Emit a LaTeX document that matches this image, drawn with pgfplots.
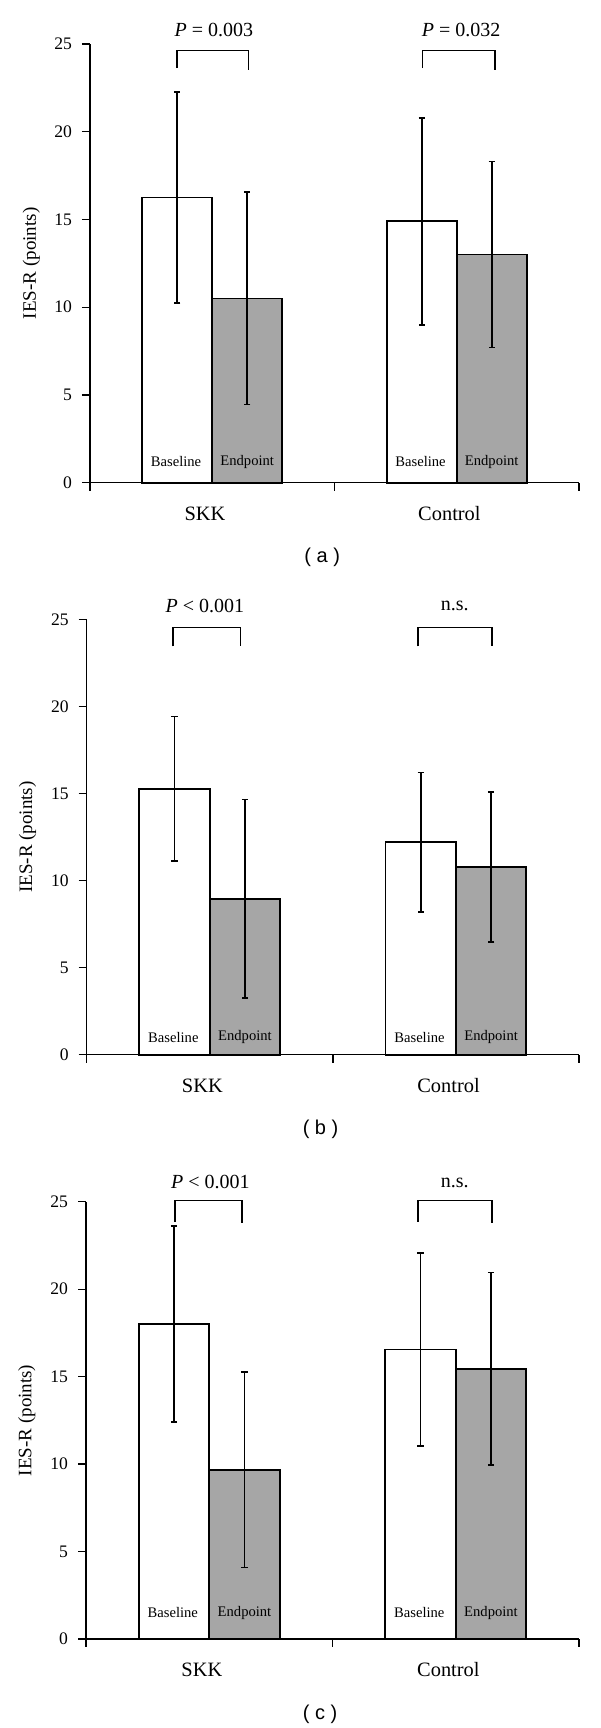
\documentclass[border=0pt]{standalone}
\usepackage{fontspec}
\setmainfont{Liberation Serif}
\newfontfamily\capfont{Liberation Sans}
\usepackage{pgfplots}
\usepackage{pgfplotstable}
\pgfplotsset{compat=1.18}
\definecolor{bargray}{RGB}{166,166,166}

% panel (a)
\pgfplotstableread{
x y e
0.357 16.25 6.0
1.357 14.9 5.9
}\aBase
\pgfplotstableread{
x y e
0.643 10.5 6.05
1.643 13.0 5.3
}\aEnd
% panel (b)
\pgfplotstableread{
x y e
0.357 15.27 4.15
1.357 12.2 4.0
}\bBase
\pgfplotstableread{
x y e
0.643 8.96 5.7
1.643 10.78 4.3
}\bEnd
% panel (c)
\pgfplotstableread{
x y e
0.357 18.0 5.6
1.357 16.55 5.5
}\cBase
\pgfplotstableread{
x y e
0.643 9.68 5.6
1.643 15.45 5.5
}\cEnd

\pgfplotsset{
  panel/.style={
    scale only axis, anchor=south west,
    xmin=0, xmax=2, ymin=0, ymax=25,
    axis x line=bottom, axis y line=left,
    axis line style={-, line width=0.65pt, black},
    tick align=outside, major tick length=4pt,
    every tick/.style={black, line width=0.65pt},
    xtick={0,1,2}, xticklabels={},
    ytick={0,5,...,25},
    /pgf/number format/assume math mode=true,
    yticklabel style={font=\fontsize{8.8}{10}\selectfont, xshift=-1.5pt},
    every axis y label/.style={at={(axis description cs:-0.12,0.5)}, rotate=90, anchor=center, font=\fontsize{9.5}{11}\selectfont},
    ylabel={IES-R (points)},
    clip=false,
    ybar, bar width=0.286, bar shift=0pt,
  },
  basebar/.style={draw=black, fill=white, line width=0.9pt,
    error bars/.cd, y dir=both, y explicit,
    error bar style={line width=0.85pt, black},
    error mark options={rotate=90, mark size=1.6pt, line width=0.85pt, black}},
  endbar/.style={draw=black, fill=bargray, line width=0.9pt,
    error bars/.cd, y dir=both, y explicit,
    error bar style={line width=0.85pt, black},
    error mark options={rotate=90, mark size=1.6pt, line width=0.85pt, black}},
  bracket/.style={sharp plot, black, line width=0.85pt, mark=none},
}
\tikzset{
  bartext/.style={font=\fontsize{7.3}{8}\selectfont},
  ptext/.style={font=\fontsize{10}{12}\selectfont},
  cattext/.style={font=\fontsize{10.2}{12}\selectfont, yshift=-15.5pt},
  captext/.style={font=\capfont\fontsize{10}{12}\selectfont, yshift=-37.5pt},
}

\begin{document}
\begin{tikzpicture}
\useasboundingbox (0,0) rectangle (300pt,864pt);

% ---------------- (a)
\begin{axis}[panel, at={(45pt,622.65pt)}, width=244.5pt, height=219.35pt]
\addplot[basebar] table[x=x, y=y, y error=e] {\aBase};
\addplot[endbar] table[x=x, y=y, y error=e] {\aEnd};
\addplot[bracket] coordinates {(0.355,23.63) (0.355,24.63) (0.648,24.63) (0.648,23.53)};
\addplot[bracket] coordinates {(1.36,23.63) (1.36,24.63) (1.655,24.63) (1.655,23.53)};
\node[ptext] at (axis cs:0.507,25.8) {\textit{P} = 0.003};
\node[ptext] at (axis cs:1.518,25.8) {\textit{P} = 0.032};
\node[bartext] at (axis cs:0.352,1.2) {Baseline};
\node[bartext] at (axis cs:0.643,1.2) {Endpoint};
\node[bartext] at (axis cs:1.352,1.2) {Baseline};
\node[bartext] at (axis cs:1.643,1.2) {Endpoint};
\node[cattext] at (axis cs:0.47,0) {SKK};
\node[cattext] at (axis cs:1.47,0) {Control};
\node[captext] at (axis cs:0.95,0) {( a )};
\end{axis}

% ---------------- (b)
\begin{axis}[panel, at={(43.35pt,336.65pt)}, width=246.15pt, height=217.7pt]
\addplot[basebar] table[x=x, y=y, y error=e] {\bBase};
\addplot[endbar] table[x=x, y=y, y error=e] {\bEnd};
\addplot[bracket] coordinates {(0.351,23.44) (0.351,24.52) (0.625,24.52) (0.625,23.44)};
\addplot[bracket] coordinates {(1.346,23.44) (1.346,24.52) (1.646,24.52) (1.646,23.44)};
\node[ptext] at (axis cs:0.48,25.75) {\textit{P} < 0.001};
\node[ptext] at (axis cs:1.495,25.75) {n.s.};
\node[bartext] at (axis cs:0.352,1.0) {Baseline};
\node[bartext] at (axis cs:0.643,1.0) {Endpoint};
\node[bartext] at (axis cs:1.352,1.0) {Baseline};
\node[bartext] at (axis cs:1.643,1.0) {Endpoint};
\node[cattext] at (axis cs:0.47,0) {SKK};
\node[cattext] at (axis cs:1.47,0) {Control};
\node[captext] at (axis cs:0.95,0) {( b )};
\end{axis}

% ---------------- (c)
\begin{axis}[panel, at={(43pt,44.5pt)}, width=246.5pt, height=218.65pt]
\addplot[basebar] table[x=x, y=y, y error=e] {\cBase};
\addplot[endbar] table[x=x, y=y, y error=e] {\cEnd};
\addplot[bracket] coordinates {(0.361,23.85) (0.361,25.07) (0.632,25.07) (0.632,23.8)};
\addplot[bracket] coordinates {(1.346,23.85) (1.346,25.07) (1.647,25.07) (1.647,23.8)};
\node[ptext] at (axis cs:0.505,26.1) {\textit{P} < 0.001};
\node[ptext] at (axis cs:1.496,26.1) {n.s.};
\node[bartext] at (axis cs:0.352,1.5) {Baseline};
\node[bartext] at (axis cs:0.643,1.5) {Endpoint};
\node[bartext] at (axis cs:1.352,1.5) {Baseline};
\node[bartext] at (axis cs:1.643,1.5) {Endpoint};
\node[cattext] at (axis cs:0.47,0) {SKK};
\node[cattext] at (axis cs:1.47,0) {Control};
\node[captext] at (axis cs:0.95,0) {( c )};
\end{axis}
\end{tikzpicture}
\end{document}
